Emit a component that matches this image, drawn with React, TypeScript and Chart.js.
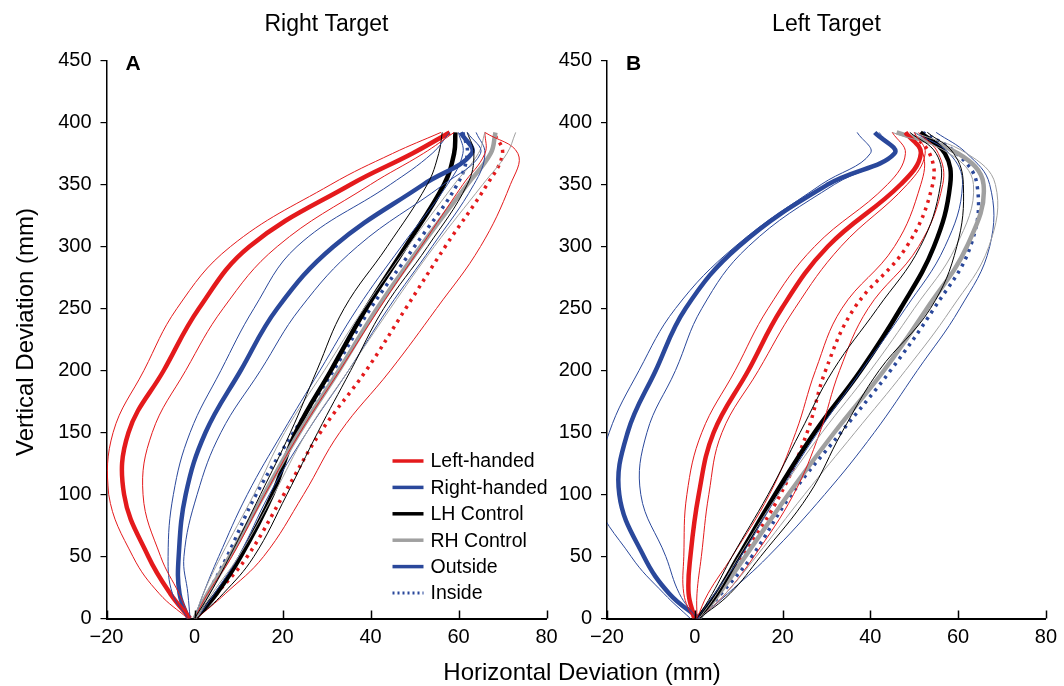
import React, { useEffect, useRef } from "react";
import { Chart, registerables } from "chart.js";
Chart.register(...registerables);

const FONT = '"Liberation Sans", Arial, Helvetica, sans-serif';

// ---------- data ----------
const yLevels = [0, 20, 50, 100, 150, 200, 250, 300, 350, 375, 392];
const xTickStep = 20;
const yTickStep = 50;
const xRange = [-20, 80];
const yRange = [0, 450];

const panelTitles = ["Right Target", "Left Target"];
const panelLetters = ["A", "B"];
const xAxisTitle = "Horizontal Deviation (mm)";
const yAxisTitle = "Vertical Deviation (mm)";

const legendLabels = ["Left-handed", "Right-handed", "LH Control", "RH Control", "Outside", "Inside"];

// Panel A (Right Target) horizontal deviations at yLevels
const A_LH_out = [-1, -5.5, -10.5, -16, -15, -7, 1, 12.5, 35.5, 49.5, 58];
const A_LH_out_lo = [-1.5, -8, -14, -19.5, -18.5, -11.5, -4, 8.2, 31, 45, 56];
const A_LH_out_hi = [-1, -3.5, -7.7, -11.7, -9.6, -2, 6.5, 18.8, 40, 52, 59];
const A_RH_out = [-1.4, -3.4, -3.6, -2, 2.5, 10.5, 18.8, 31.6, 52, 63, 60.5];
const A_RH_out_lo = [-1.5, -5, -6, -4.8, -1, 6, 13.5, 23.3, 44.5, 54, 58];
const A_RH_out_hi = [-1, -1.5, -2.4, 0.6, 6, 15, 24, 37, 56.6, 65, 62];
const A_LHC = [0.2, 5, 10.5, 17.7, 23, 31, 39, 48, 56.7, 59, 59.3];
const A_LHC_lo = [0, 3.5, 8, 15, 21.8, 27.8, 34, 43.8, 52.9, 55.5, 56.3];
const A_LHC_hi = [0.5, 6.5, 13.5, 21, 28, 35.5, 43, 53, 62, 63.5, 62];
const A_RHC = [0, 3, 8, 15.8, 23.8, 32.8, 41.5, 51.4, 62, 67.3, 68.4];
const A_RHC_lo = [0, 2, 6, 13.5, 20.5, 29.5, 38.5, 48.5, 59, 64.5, 66];
const A_RHC_hi = [0.5, 4, 10, 18, 25.5, 35, 44.5, 54.5, 65.5, 71, 73];
const A_LH_in = [0, 5, 12, 20.3, 28.6, 39, 48, 57, 66.5, 70, 68];
const A_LH_in_lo = [0, 3, 8.5, 16, 24, 33, 42, 51.5, 61, 66, 66];
const A_LH_in_hi = [0.5, 7, 15.7, 24.8, 33, 44.5, 55, 65, 71.8, 73.5, 66];
const A_RH_in = [0, 3, 7.4, 14, 22.5, 31.6, 40, 50, 59.7, 62, 61];
const A_RH_in_lo = [0, 2, 5.5, 12, 20, 28.5, 37, 47, 57.5, 61, 60];
const A_RH_in_hi = [0.5, 4.5, 10, 17, 25.5, 35, 44, 54, 63.5, 66, 64];

// Panel B (Left Target)
const B_LH_out = [0, -1.4, -1, 0.9, 4.3, 12.2, 19.8, 30.3, 46.9, 51.5, 48];
const B_LH_out_lo = [-0.5, -2.5, -2.5, -1.8, 1.6, 9.2, 16.7, 27.3, 43.9, 48, 45];
const B_LH_out_hi = [0.5, 0.5, 1.5, 3.2, 6.2, 14.5, 22.8, 33.3, 48.4, 52.5, 50];
const B_RH_out = [1, -5.8, -11.6, -17.2, -15.3, -8.9, -2.1, 10, 30.3, 45.5, 41];
const B_RH_out_lo = [-1, -7, -14.5, -22.5, -19.5, -12.7, -4.4, 9.2, 28.8, 40, 37];
const B_RH_out_hi = [0.5, -3.5, -6.6, -12.3, -10.9, -4.4, 1.6, 12.2, 31.8, 45.4, 42];
const B_LHC = [0.7, 5, 10, 18.3, 27.3, 37.8, 46.9, 54.5, 58.2, 57, 51.4];
const B_LHC_lo = [0.5, 4, 8.5, 16.7, 24, 31.5, 41.6, 51.4, 56, 55, 49];
const B_LHC_hi = [1, 8, 15, 26, 33.5, 42, 53.7, 59.7, 61.2, 59, 53];
const B_RHC = [1, 5.5, 11.5, 21.3, 31.8, 43.1, 52.9, 62, 65.8, 60, 46];
const B_RHC_lo = [1, 5, 10, 19, 29, 40, 50, 59.5, 63.5, 58, 45];
const B_RHC_hi = [1, 7, 14, 25, 36.5, 48, 58.5, 67, 68.5, 62, 50];
const B_LH_in = [0.7, 5, 10.8, 19.5, 25.6, 29.8, 36.3, 48.3, 54.2, 53.5, 49];
const B_LH_in_lo = [0.5, 3, 8.5, 17, 23, 27.5, 33.5, 45.5, 51.5, 52, 48];
const B_LH_in_hi = [1, 7, 13.5, 22.5, 28.5, 33, 39.5, 51, 56.5, 55.5, 51];
const B_RH_in = [1, 6, 13, 22, 33.3, 44.6, 54.5, 62.8, 64.3, 59.7, 52];
const B_RH_in_lo = [0.5, 4.5, 10.5, 19, 28, 38, 48, 57, 61, 58, 50];
const B_RH_in_hi = [1, 7.5, 16.7, 29.6, 40.9, 50.7, 60.4, 67.2, 67.2, 62, 55];

// ---------- styles ----------
const RED = "rgb(228,26,28)";
const BLUE = "rgb(42,72,155)";
const BLACK = "#000000";
const GRAY = "rgb(160,160,160)";

type Kind = "mean" | "band" | "dot";
type Series = { xs: number[]; color: string; kind: Kind };

const panelASeries: Series[] = [
  { xs: A_LH_out_lo, color: RED, kind: "band" },
  { xs: A_LH_out_hi, color: RED, kind: "band" },
  { xs: A_RH_out_lo, color: BLUE, kind: "band" },
  { xs: A_RH_out_hi, color: BLUE, kind: "band" },
  { xs: A_LHC_lo, color: BLACK, kind: "band" },
  { xs: A_LHC_hi, color: BLACK, kind: "band" },
  { xs: A_RHC_lo, color: GRAY, kind: "band" },
  { xs: A_RHC_hi, color: GRAY, kind: "band" },
  { xs: A_LH_in_lo, color: RED, kind: "band" },
  { xs: A_LH_in_hi, color: RED, kind: "band" },
  { xs: A_RH_in_lo, color: BLUE, kind: "band" },
  { xs: A_RH_in_hi, color: BLUE, kind: "band" },
  { xs: A_LH_out, color: RED, kind: "mean" },
  { xs: A_RH_out, color: BLUE, kind: "mean" },
  { xs: A_RHC, color: GRAY, kind: "mean" },
  { xs: A_LHC, color: BLACK, kind: "mean" },
  { xs: A_LH_in, color: RED, kind: "dot" },
  { xs: A_RH_in, color: BLUE, kind: "dot" },
];

const panelBSeries: Series[] = [
  { xs: B_LH_out_lo, color: RED, kind: "band" },
  { xs: B_LH_out_hi, color: RED, kind: "band" },
  { xs: B_RH_out_lo, color: BLUE, kind: "band" },
  { xs: B_RH_out_hi, color: BLUE, kind: "band" },
  { xs: B_LHC_lo, color: BLACK, kind: "band" },
  { xs: B_LHC_hi, color: BLACK, kind: "band" },
  { xs: B_RHC_lo, color: GRAY, kind: "band" },
  { xs: B_RHC_hi, color: GRAY, kind: "band" },
  { xs: B_LH_in_lo, color: RED, kind: "band" },
  { xs: B_LH_in_hi, color: RED, kind: "band" },
  { xs: B_RH_in_lo, color: BLUE, kind: "band" },
  { xs: B_RH_in_hi, color: BLUE, kind: "band" },
  { xs: B_LH_out, color: RED, kind: "mean" },
  { xs: B_RH_out, color: BLUE, kind: "mean" },
  { xs: B_LHC, color: BLACK, kind: "mean" },
  { xs: B_RHC, color: GRAY, kind: "mean" },
  { xs: B_LH_in, color: RED, kind: "dot" },
  { xs: B_RH_in, color: BLUE, kind: "dot" },
];

const legendColors = [RED, BLUE, BLACK, GRAY, BLUE, BLUE];
const legendDotted = [false, false, false, false, false, true];

function buildDatasets(series: Series[]) {
  return series.map((s) => ({
    data: yLevels.map((y, i) => ({ x: s.xs[i], y })),
    borderColor: s.color,
    backgroundColor: s.color,
    borderWidth: s.kind === "mean" ? 4.5 : s.kind === "dot" ? 3.5 : 1,
    borderDash: s.kind === "dot" ? [3, 5] : [],
    pointRadius: 0,
    pointHoverRadius: 0,
    tension: 0.4,
    fill: false,
  }));
}

const minusFmt = (v: number | string) => {
  const n = Number(v);
  return n < 0 ? "\u2212" + Math.abs(n) : String(n);
};

type PanelCfg = {
  idx: number;
  canvasLeft: number;
  canvasWidth: number;
  areaLeft: number; // page coords
  areaRight: number;
  series: Series[];
  showYTitle: boolean;
  showLegend: boolean;
};

const CANVAS_H = 686;
const AREA_TOP = 60.5;
const AREA_BOTTOM = 618.5;

function makeChart(canvas: HTMLCanvasElement, cfg: PanelCfg) {
  const yWidth = cfg.areaLeft - cfg.canvasLeft;
  const padRight = cfg.canvasLeft + cfg.canvasWidth - cfg.areaRight;

  const decor = {
    id: "decor" + cfg.idx,
    afterDraw(chart: any) {
      const ctx = chart.ctx as CanvasRenderingContext2D;
      const area = chart.chartArea;
      const xs = chart.scales.x;
      ctx.save();
      // inward x ticks
      ctx.strokeStyle = "#000";
      ctx.lineWidth = 1.5;
      xs.ticks.forEach((t: any) => {
        const px = Math.round(xs.getPixelForValue(t.value)) + 0.5;
        ctx.beginPath();
        ctx.moveTo(px, area.bottom);
        ctx.lineTo(px, area.bottom - 8);
        ctx.stroke();
      });
      // panel title
      ctx.fillStyle = "#000";
      ctx.textAlign = "center";
      ctx.textBaseline = "alphabetic";
      ctx.font = `23px ${FONT}`;
      ctx.fillText(panelTitles[cfg.idx], (area.left + area.right) / 2, 31);
      // panel letter
      ctx.textAlign = "left";
      ctx.font = `bold 21px ${FONT}`;
      ctx.fillText(panelLetters[cfg.idx], area.left + 19, 70);
      // y axis title
      if (cfg.showYTitle) {
        ctx.save();
        ctx.translate(33 - cfg.canvasLeft, 332);
        ctx.rotate(-Math.PI / 2);
        ctx.textAlign = "center";
        ctx.textBaseline = "alphabetic";
        ctx.font = `24px ${FONT}`;
        ctx.fillText(yAxisTitle, 0, 0);
        ctx.restore();
      }
      // legend
      if (cfg.showLegend) {
        const lx0 = area.left + 286;
        const lx1 = lx0 + 31;
        const ly0 = 461;
        const step = 26.4;
        ctx.font = `19.5px ${FONT}`;
        ctx.textBaseline = "middle";
        ctx.textAlign = "left";
        legendLabels.forEach((lab, i) => {
          const y = ly0 + i * step;
          ctx.strokeStyle = legendColors[i];
          ctx.lineWidth = legendDotted[i] ? 3 : 3.5;
          ctx.setLineDash(legendDotted[i] ? [2, 3] : []);
          ctx.beginPath();
          ctx.moveTo(lx0, y);
          ctx.lineTo(lx1, y);
          ctx.stroke();
          ctx.setLineDash([]);
          ctx.fillStyle = "#000";
          ctx.fillText(lab, lx1 + 7, y + 1);
        });
      }
      ctx.restore();
    },
  };

  return new Chart(canvas, {
    type: "line",
    data: { datasets: buildDatasets(cfg.series) as any },
    plugins: [decor],
    options: {
      animation: false,
      responsive: false,
      maintainAspectRatio: false,
      indexAxis: "y",
      events: [],
      layout: { padding: { left: 0, right: padRight, top: AREA_TOP, bottom: 0 } },
      plugins: { legend: { display: false }, tooltip: { enabled: false }, title: { display: false } },
      scales: {
        x: {
          type: "linear",
          min: xRange[0],
          max: xRange[1],
          position: "bottom",
          ticks: {
            stepSize: xTickStep,
            color: "#000",
            font: { family: FONT, size: 20 },
            padding: 7,
            maxRotation: 0,
            autoSkip: false,
            callback: (v: any) => minusFmt(v),
          },
          grid: { display: true, drawOnChartArea: false, drawTicks: false },
          border: { display: true, color: "#000", width: 2 },
          afterFit: (s: any) => {
            s.height = CANVAS_H - AREA_BOTTOM;
          },
        },
        y: {
          type: "linear",
          min: yRange[0],
          max: yRange[1],
          position: "left",
          ticks: {
            stepSize: yTickStep,
            color: "#000",
            font: { family: FONT, size: 20 },
            padding: 9,
            autoSkip: false,
          },
          grid: { display: true, drawOnChartArea: false, drawTicks: true, tickLength: 6, color: "#000", lineWidth: 1.2 },
          border: { display: true, color: "#000", width: 1.5 },
          afterFit: (s: any) => {
            s.width = yWidth;
          },
        },
      },
    } as any,
  });
}

const panelA: PanelCfg = {
  idx: 0,
  canvasLeft: 0,
  canvasWidth: 570,
  areaLeft: 106.5,
  areaRight: 546.5,
  series: panelASeries,
  showYTitle: true,
  showLegend: true,
};
const panelB: PanelCfg = {
  idx: 1,
  canvasLeft: 530,
  canvasWidth: 534,
  areaLeft: 607,
  areaRight: 1049,
  series: panelBSeries,
  showYTitle: false,
  showLegend: false,
};

function Panel({ cfg }: { cfg: PanelCfg }) {
  const ref = useRef<HTMLCanvasElement | null>(null);
  useEffect(() => {
    if (!ref.current) return;
    const chart = makeChart(ref.current, cfg);
    return () => chart.destroy();
  }, [cfg]);
  return (
    <canvas
      ref={ref}
      width={cfg.canvasWidth}
      height={CANVAS_H}
      style={{ position: "absolute", left: cfg.canvasLeft, top: 0, width: cfg.canvasWidth, height: CANVAS_H }}
    />
  );
}

export default function App() {
  return (
    <div
      style={{
        position: "absolute",
        left: 0,
        top: 0,
        width: 1064,
        height: 686,
        background: "#fff",
        overflow: "hidden",
      }}
    >
      <Panel cfg={panelA} />
      <Panel cfg={panelB} />
      <div
        style={{
          position: "absolute",
          left: 382,
          width: 400,
          top: 658,
          textAlign: "center",
          fontFamily: FONT,
          fontSize: 24,
          lineHeight: "28px",
          color: "#000",
        }}
      >
        {xAxisTitle}
      </div>
    </div>
  );
}
